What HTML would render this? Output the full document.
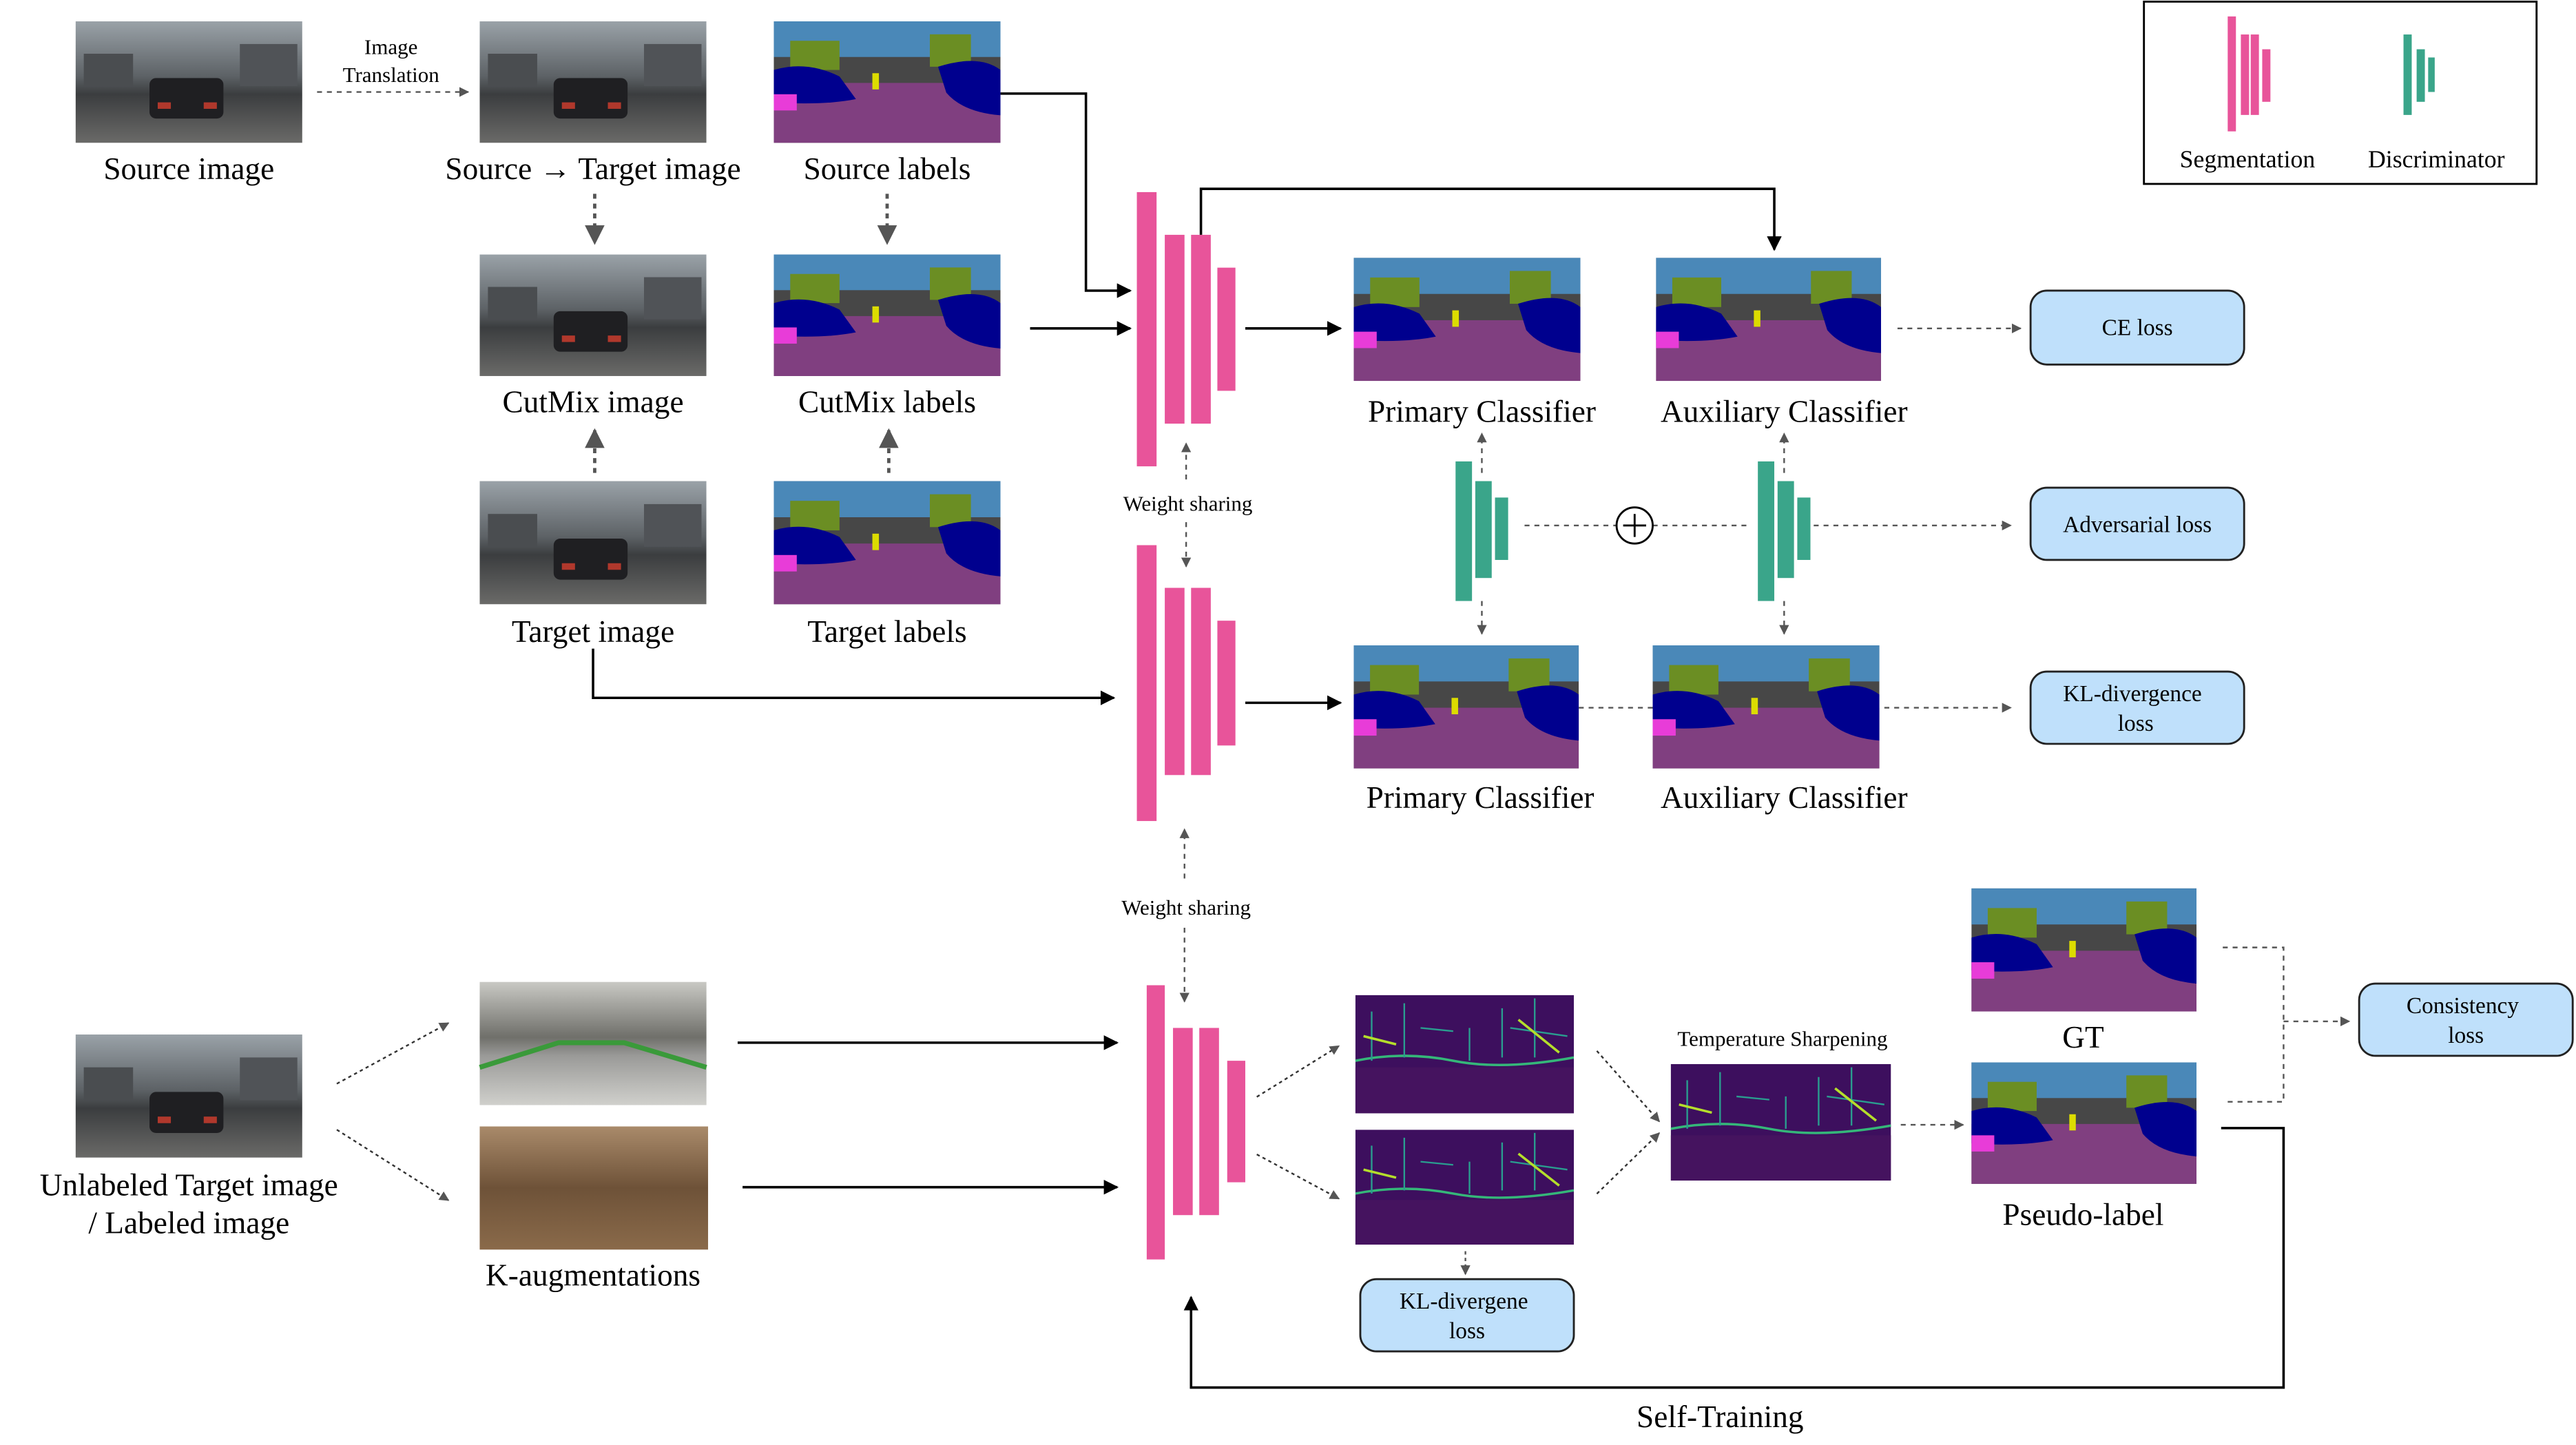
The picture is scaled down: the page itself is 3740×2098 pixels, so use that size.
<!DOCTYPE html>
<html><head><meta charset="utf-8"><style>
html,body{margin:0;padding:0;background:#fff}
svg{display:block}
text{font-family:"Liberation Serif",serif;fill:#000}
</style></head><body>
<svg width="3740" height="2098" viewBox="0 0 1568 880" preserveAspectRatio="none" xmlns="http://www.w3.org/2000/svg">
<defs>
<marker id="ah" viewBox="0 0 10 10" refX="9" refY="5" markerWidth="6" markerHeight="6" orient="auto"><path d="M0,0L10,5L0,10z" fill="#000"/></marker>
<marker id="ahg" viewBox="0 0 10 10" refX="9" refY="5" markerWidth="6" markerHeight="6" orient="auto"><path d="M0,0L10,5L0,10z" fill="#555"/></marker>
<linearGradient id="photo" x1="0" y1="0" x2="0" y2="1"><stop offset="0" stop-color="#9aa2a8"/><stop offset=".45" stop-color="#5d6266"/><stop offset=".6" stop-color="#3b3d3f"/><stop offset="1" stop-color="#6a6a68"/></linearGradient>
<linearGradient id="sepia" x1="0" y1="0" x2="0" y2="1"><stop offset="0" stop-color="#a98a6a"/><stop offset=".5" stop-color="#6e5238"/><stop offset="1" stop-color="#8a6a4a"/></linearGradient>
<linearGradient id="aug" x1="0" y1="0" x2="0" y2="1"><stop offset="0" stop-color="#c9c9c4"/><stop offset=".45" stop-color="#6f6f6a"/><stop offset=".6" stop-color="#9a9a98"/><stop offset="1" stop-color="#d0d0cc"/></linearGradient>
<symbol id="seg" viewBox="0 0 138 75" preserveAspectRatio="none">
<rect width="138" height="75" fill="#474747"/><rect y="0" width="138" height="22" fill="#4a88b8"/>
<rect x="10" y="12" width="30" height="18" fill="#6b8e23"/><rect x="95" y="8" width="25" height="20" fill="#6b8e23"/>
<rect y="38" width="138" height="37" fill="#803f80"/>
<path d="M0,30 Q20,24 40,34 L50,48 Q30,52 0,50z" fill="#00008e"/><path d="M100,28 Q125,20 138,30 L138,58 Q115,56 105,44z" fill="#00008e"/>
<rect x="0" y="45" width="14" height="10" fill="#e83cd8"/><rect x="60" y="32" width="4" height="10" fill="#dcdc00"/>
</symbol>
<symbol id="photo1" viewBox="0 0 138 75" preserveAspectRatio="none">
<rect width="138" height="75" fill="url(#photo)"/><rect x="5" y="20" width="30" height="20" fill="#4a4d50"/><rect x="100" y="14" width="35" height="26" fill="#505357"/>
<rect x="45" y="35" width="45" height="25" rx="4" fill="#1f1f22"/><rect x="50" y="50" width="8" height="4" fill="#b0382c"/><rect x="78" y="50" width="8" height="4" fill="#b0382c"/>
</symbol>
<symbol id="heat" viewBox="0 0 134 72" preserveAspectRatio="none">
<rect width="134" height="72" fill="#3d0f5e"/><rect y="44" width="134" height="28" fill="#45135f"/>
<path d="M0,40 Q30,34 60,40 T134,38" stroke="#35b779" stroke-width="1.5" fill="none"/>
<path d="M10,40 L10,10 M30,38 L30,5 M90,38 L90,8 M110,38 L110,2 M70,40 L70,20 M40,20 L60,22 M95,20 L130,25" stroke="#2a9d8f" stroke-width="1" fill="none"/>
<path d="M100,15 L125,35 M5,25 L25,30" stroke="#b5de2b" stroke-width="1.5" fill="none"/>
</symbol>
</defs>

<!-- top row -->
<use href="#photo1" x="46" y="13" width="138" height="74"/>
<text x="115" y="109" font-size="19" text-anchor="middle">Source image</text>
<line x1="193" y1="56" x2="285" y2="56" stroke="#555" stroke-dasharray="3,3" marker-end="url(#ahg)"/>
<text x="238" y="33" font-size="13" text-anchor="middle">Image</text>
<text x="238" y="50" font-size="13" text-anchor="middle">Translation</text>
<use href="#photo1" x="292" y="13" width="138" height="74"/>
<text x="361" y="109" font-size="19" text-anchor="middle">Source → Target image</text>
<use href="#seg" x="471" y="13" width="138" height="74"/>
<text x="540" y="109" font-size="19" text-anchor="middle">Source labels</text>
<line x1="362" y1="118" x2="362" y2="148" stroke="#555" stroke-width="2" stroke-dasharray="3,3" marker-end="url(#ahg)"/>
<line x1="540" y1="118" x2="540" y2="148" stroke="#555" stroke-width="2" stroke-dasharray="3,3" marker-end="url(#ahg)"/>

<use href="#photo1" x="292" y="155" width="138" height="74"/>
<text x="361" y="251" font-size="19" text-anchor="middle">CutMix image</text>
<use href="#seg" x="471" y="155" width="138" height="74"/>
<text x="540" y="251" font-size="19" text-anchor="middle">CutMix labels</text>
<line x1="362" y1="288" x2="362" y2="262" stroke="#555" stroke-width="2" stroke-dasharray="3,3" marker-end="url(#ahg)"/>
<line x1="541" y1="288" x2="541" y2="262" stroke="#555" stroke-width="2" stroke-dasharray="3,3" marker-end="url(#ahg)"/>

<use href="#photo1" x="292" y="293" width="138" height="75"/>
<text x="361" y="391" font-size="19" text-anchor="middle">Target image</text>
<use href="#seg" x="471" y="293" width="138" height="75"/>
<text x="540" y="391" font-size="19" text-anchor="middle">Target labels</text>

<!-- connectors to seg net 1 -->
<polyline points="609,57 661,57 661,177 688,177" fill="none" stroke="#000" stroke-width="1.5" marker-end="url(#ah)"/>
<line x1="627" y1="200" x2="688" y2="200" stroke="#000" stroke-width="1.5" marker-end="url(#ah)"/>
<polyline points="361,395 361,425 678,425" fill="none" stroke="#000" stroke-width="1.5" marker-end="url(#ah)"/>

<g fill="#e8549a">
<rect x="692" y="117" width="12" height="167"/><rect x="709" y="143" width="12" height="115"/><rect x="725" y="143" width="12" height="115"/><rect x="741" y="163" width="11" height="75"/></g>
<polyline points="731,143 731,115 1080,115 1080,152" fill="none" stroke="#000" stroke-width="1.5" marker-end="url(#ah)"/>
<line x1="758" y1="200" x2="816" y2="200" stroke="#000" stroke-width="1.5" marker-end="url(#ah)"/>
<use href="#seg" x="824" y="157" width="138" height="75"/>
<text x="902" y="257" font-size="19" text-anchor="middle">Primary Classifier</text>
<use href="#seg" x="1008" y="157" width="137" height="75"/>
<text x="1086" y="257" font-size="19" text-anchor="middle">Auxiliary Classifier</text>
<line x1="1155" y1="200" x2="1230" y2="200" stroke="#555" stroke-dasharray="3,3" marker-end="url(#ahg)"/>
<g><rect x="1236" y="177" width="130" height="45" rx="10" fill="#bfe0fb" stroke="#222" stroke-width="1.2"/>
<text x="1301" y="204" font-size="14" text-anchor="middle">CE loss</text></g>

<text x="723" y="311" font-size="13" text-anchor="middle">Weight sharing</text>
<line x1="722" y1="292" x2="722" y2="270" stroke="#555" stroke-dasharray="3,3" marker-end="url(#ahg)"/>
<line x1="722" y1="318" x2="722" y2="345" stroke="#555" stroke-dasharray="3,3" marker-end="url(#ahg)"/>

<g fill="#e8549a">
<rect x="692" y="332" width="12" height="168"/><rect x="709" y="358" width="12" height="114"/><rect x="725" y="358" width="12" height="114"/><rect x="741" y="378" width="11" height="76"/></g>
<line x1="758" y1="428" x2="816" y2="428" stroke="#000" stroke-width="1.5" marker-end="url(#ah)"/>
<use href="#seg" x="824" y="393" width="137" height="75"/>
<text x="901" y="492" font-size="19" text-anchor="middle">Primary Classifier</text>
<use href="#seg" x="1006" y="393" width="138" height="75"/>
<text x="1086" y="492" font-size="19" text-anchor="middle">Auxiliary Classifier</text>
<line x1="961" y1="431" x2="1006" y2="431" stroke="#555" stroke-dasharray="3,3"/>
<line x1="1147" y1="431" x2="1224" y2="431" stroke="#555" stroke-dasharray="3,3" marker-end="url(#ahg)"/>
<g><rect x="1236" y="409" width="130" height="44" rx="10" fill="#bfe0fb" stroke="#222" stroke-width="1.2"/>
<text x="1298" y="427" font-size="14" text-anchor="middle">KL-divergence</text><text x="1300" y="445" font-size="14" text-anchor="middle">loss</text></g>

<!-- discriminators -->
<g fill="#3aa58a"><rect x="886" y="281" width="10" height="85"/><rect x="898" y="293" width="10" height="59"/><rect x="910" y="303" width="8" height="38"/></g>
<g fill="#3aa58a"><rect x="1070" y="281" width="10" height="85"/><rect x="1082" y="293" width="10" height="59"/><rect x="1094" y="303" width="8" height="38"/></g>
<g stroke="#555" stroke-dasharray="3,3" fill="none">
<line x1="902" y1="288" x2="902" y2="264" marker-end="url(#ahg)"/><line x1="902" y1="366" x2="902" y2="386" marker-end="url(#ahg)"/>
<line x1="1086" y1="288" x2="1086" y2="264" marker-end="url(#ahg)"/><line x1="1086" y1="366" x2="1086" y2="386" marker-end="url(#ahg)"/>
<line x1="928" y1="320" x2="984" y2="320"/><line x1="1006" y1="320" x2="1066" y2="320"/>
<line x1="1104" y1="320" x2="1224" y2="320" marker-end="url(#ahg)"/></g>
<g><circle cx="995" cy="320" r="11" fill="#fff" stroke="#000" stroke-width="1.2"/>
<line x1="988" y1="320" x2="1002" y2="320" stroke="#000" stroke-width="1.2"/><line x1="995" y1="313" x2="995" y2="327" stroke="#000" stroke-width="1.2"/></g>
<g><rect x="1236" y="297" width="130" height="44" rx="10" fill="#bfe0fb" stroke="#222" stroke-width="1.2"/>
<text x="1301" y="324" font-size="14" text-anchor="middle">Adversarial loss</text></g>

<!-- bottom -->
<text x="722" y="557" font-size="13" text-anchor="middle">Weight sharing</text>
<line x1="721" y1="535" x2="721" y2="505" stroke="#555" stroke-dasharray="3,3" marker-end="url(#ahg)"/>
<line x1="721" y1="565" x2="721" y2="610" stroke="#555" stroke-dasharray="3,3" marker-end="url(#ahg)"/>
<g fill="#e8549a">
<rect x="698" y="600" width="11" height="167"/><rect x="714" y="626" width="12" height="114"/><rect x="730" y="626" width="12" height="114"/><rect x="747" y="646" width="11" height="74"/></g>

<use href="#photo1" x="46" y="630" width="138" height="75"/>
<text x="115" y="728" font-size="19" text-anchor="middle">Unlabeled Target image</text>
<text x="115" y="751" font-size="19" text-anchor="middle">/ Labeled image</text>
<line x1="205" y1="660" x2="273" y2="623" stroke="#333" stroke-dasharray="2,2" marker-end="url(#ahg)"/>
<line x1="205" y1="688" x2="273" y2="731" stroke="#333" stroke-dasharray="2,2" marker-end="url(#ahg)"/>
<rect x="292" y="598" width="138" height="75" fill="url(#aug)"/>
<path d="M292,650 L340,635 L380,635 L430,650" stroke="#3a9a3a" stroke-width="3" fill="none"/>
<rect x="292" y="686" width="139" height="75" fill="url(#sepia)"/>
<text x="361" y="783" font-size="19" text-anchor="middle">K-augmentations</text>
<line x1="449" y1="635" x2="680" y2="635" stroke="#000" stroke-width="1.5" marker-end="url(#ah)"/>
<line x1="452" y1="723" x2="680" y2="723" stroke="#000" stroke-width="1.5" marker-end="url(#ah)"/>
<line x1="765" y1="668" x2="815" y2="637" stroke="#333" stroke-dasharray="2,2" marker-end="url(#ahg)"/>
<line x1="765" y1="703" x2="815" y2="730" stroke="#333" stroke-dasharray="2,2" marker-end="url(#ahg)"/>
<use href="#heat" x="825" y="606" width="133" height="72"/>
<use href="#heat" x="825" y="688" width="133" height="70"/>
<line x1="892" y1="762" x2="892" y2="776" stroke="#555" stroke-dasharray="2,2" marker-end="url(#ahg)"/>
<g><rect x="828" y="779" width="130" height="44" rx="10" fill="#bfe0fb" stroke="#222" stroke-width="1.2"/>
<text x="891" y="797" font-size="14" text-anchor="middle">KL-divergene</text><text x="893" y="815" font-size="14" text-anchor="middle">loss</text></g>
<text x="1085" y="637" font-size="13" text-anchor="middle">Temperature Sharpening</text>
<line x1="972" y1="640" x2="1010" y2="683" stroke="#333" stroke-dasharray="2,2" marker-end="url(#ahg)"/>
<line x1="972" y1="727" x2="1010" y2="690" stroke="#333" stroke-dasharray="2,2" marker-end="url(#ahg)"/>
<use href="#heat" x="1017" y="648" width="134" height="71"/>
<line x1="1157" y1="685" x2="1195" y2="685" stroke="#555" stroke-dasharray="3,3" marker-end="url(#ahg)"/>
<use href="#seg" x="1200" y="541" width="137" height="75"/>
<text x="1268" y="638" font-size="19" text-anchor="middle">GT</text>
<use href="#seg" x="1200" y="647" width="137" height="74"/>
<text x="1268" y="746" font-size="19" text-anchor="middle">Pseudo-label</text>
<polyline points="1353,577 1390,577 1390,671 1353,671" fill="none" stroke="#555" stroke-dasharray="3,3"/>
<line x1="1390" y1="622" x2="1430" y2="622" stroke="#555" stroke-dasharray="3,3" marker-end="url(#ahg)"/>
<g><rect x="1436" y="599" width="130" height="44" rx="10" fill="#bfe0fb" stroke="#222" stroke-width="1.2"/>
<text x="1499" y="617" font-size="14" text-anchor="middle">Consistency</text><text x="1501" y="635" font-size="14" text-anchor="middle">loss</text></g>
<polyline points="1352,687 1390,687 1390,845 725,845 725,790" fill="none" stroke="#000" stroke-width="1.5" marker-end="url(#ah)"/>
<text x="1047" y="869" font-size="19" text-anchor="middle">Self-Training</text>

<!-- legend -->
<g>
<rect x="1305" y="1" width="239" height="111" fill="#fff" stroke="#000" stroke-width="1.2"/>
<g fill="#e8549a"><rect x="1356" y="10" width="5" height="70"/><rect x="1364" y="21" width="5" height="49"/><rect x="1370" y="21" width="5" height="49"/><rect x="1377" y="30" width="5" height="32"/></g>
<g fill="#3aa58a"><rect x="1463" y="21" width="5" height="49"/><rect x="1471" y="30" width="5" height="32"/><rect x="1478" y="35" width="4" height="21"/></g>
<text x="1368" y="102" font-size="15" text-anchor="middle">Segmentation</text>
<text x="1483" y="102" font-size="15" text-anchor="middle">Discriminator</text>
</g>
</svg>
</body></html>
